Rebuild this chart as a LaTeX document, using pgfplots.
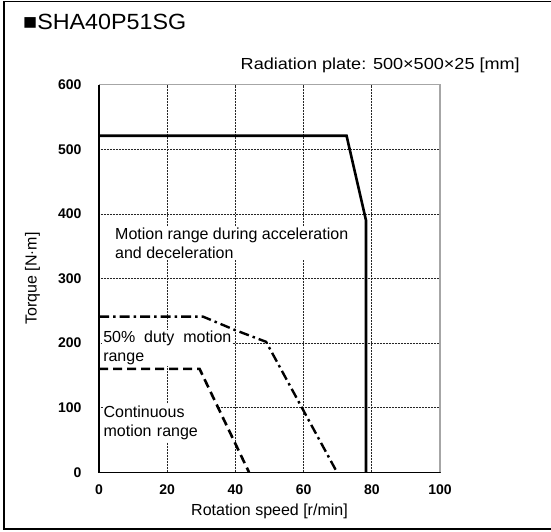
\documentclass[border=0pt]{standalone}
\usepackage{fontspec}
\setmainfont{Liberation Sans}
\usepackage{graphicx}
\usepackage{pgfplots}
\pgfplotsset{compat=1.18}

\begin{document}
\begin{tikzpicture}[x=1pt,y=1pt]
\useasboundingbox (0,0) rectangle (551,531);
% outer frame
\draw[line width=1.6pt] (560,529.5) -- (4,529.5) -- (4,2) -- (560,2);
\node[anchor=west,inner sep=0pt,font=\fontsize{22}{26}\selectfont] at (23,509) {\scalebox{1.06}[1]{■SHA40P51SG}};
\node[anchor=east,inner sep=0pt,font=\fontsize{16}{19}\selectfont] at (520,466) {\scalebox{1.13}[1]{Radiation plate: 500×500×25 [mm]}};

\begin{axis}[
    at={(99pt,58.7pt)}, anchor=origin,
    scale only axis,
    width=341pt, height=387.6pt,
    xmin=0, xmax=100, ymin=0, ymax=600,
    xtick={0,20,...,100}, ytick={0,100,...,600},
    grid=major,
    major grid style={black!85, line width=0.8pt, dash pattern=on 1pt off 0.5pt},
    axis line style={draw=none},
    tick style={draw=none},
    ticklabel style={font=\fontsize{14}{16}\selectfont\bfseries},
    /pgf/number format/assume math mode=true,
    xticklabel style={yshift=-8.5pt},
    yticklabel style={xshift=-14pt},
    xlabel={Rotation speed [r/min]},
    ylabel={Torque [N$\cdot$m]},
    label style={font=\fontsize{16}{19}\selectfont},
    xlabel style={at={(axis description cs:0.5,-0.102)}, anchor=center},
    ylabel style={at={(axis description cs:-0.195,0.5)}, anchor=center},
    clip=false,
]
% axis frame
\draw[gray!70, line width=1.2pt] (rel axis cs:0,1) -- (rel axis cs:1,1) -- (rel axis cs:1,0);
\draw[black, line width=1.4pt] (rel axis cs:0,1) -- (rel axis cs:0,0) -- (rel axis cs:1,0);

% labels with white background
\node[anchor=west, fill=white, align=left, inner sep=2pt, font=\fontsize{16}{19}\selectfont] at (axis cs:4.1,355)
  {Motion range during acceleration\\and deceleration};
\node[anchor=west, fill=white, align=left, inner sep=1pt, font=\fontsize{16}{19}\selectfont] at (axis cs:0.9,193)
  {50\%\ \ duty\ \ motion\\range};
\node[anchor=west, fill=white, align=left, inner xsep=1pt, inner ysep=2pt, text width=112pt, font=\fontsize{16}{19}\selectfont] at (axis cs:1,77)
  {Continuous\\motion range};

% acceleration / deceleration range
\addplot[black, line width=2.6pt, line join=miter] coordinates {
  (0,521) (72.6,521) (78.3,390) (78.3,0)
};
% 50% duty
\addplot[black, line width=2.4pt, dash pattern=on 10pt off 4pt on 2.5pt off 4pt] coordinates {
  (0,241) (30.5,241) (40,220) (49,202) (69.8,0)
};
% continuous
\addplot[black, line width=2.6pt, dash pattern=on 9pt off 5pt] coordinates {
  (0,160) (29.5,160) (44,0)
};
\end{axis}
\end{tikzpicture}
\end{document}
